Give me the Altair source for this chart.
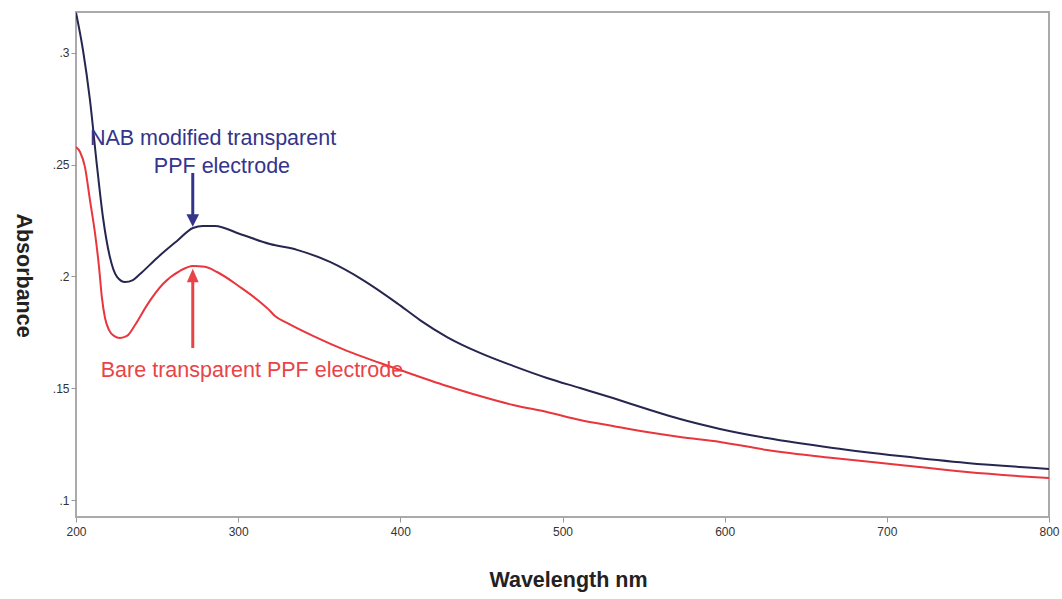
import altair as alt
import pandas as pd

# Absorbance spectra (wavelength in nm, absorbance)
nab_wl = [200, 204.3, 208.6, 213, 216.6, 220.9, 225.3, 230.2, 235.1, 239.5, 250, 262.3,
          272.1, 278.3, 285.7, 301.1, 319.6, 336.3, 356.6, 377, 397.9, 412.1, 428.8,
          449.1, 469.5, 490.4, 510.8, 531.1, 552.1, 572.5, 597.1, 626.1, 666.8, 708.1,
          749.4, 800]
nab_abs = [0.3180, 0.3013, 0.2790, 0.2490, 0.2266, 0.2087, 0.1998, 0.1975, 0.1984,
           0.2011, 0.2083, 0.2159, 0.2217, 0.2226, 0.2226, 0.2190, 0.2145, 0.2119,
           0.2065, 0.1984, 0.1881, 0.1805, 0.1729, 0.1658, 0.1600, 0.1546, 0.1501,
           0.1456, 0.1407, 0.1362, 0.1318, 0.1277, 0.1233, 0.1197, 0.1166, 0.1139]

bare_wl = [200, 202.5, 205.5, 208.6, 211.7, 214.2, 216, 217.9, 220.3, 223.4, 227.1,
           231.4, 236.4, 243.8, 253.6, 264.1, 272.1, 279.5, 287, 301.1, 313.5, 318.4,
           322.7, 330.1, 346.1, 367.1, 387.5, 401.6, 428.8, 449.1, 469.5, 490.4, 510.8,
           531.1, 552.1, 572.5, 597.1, 626.1, 666.8, 708.1, 749.4, 800]
bare_abs = [0.2579, 0.2557, 0.2490, 0.2342, 0.2195, 0.2042, 0.1904, 0.1814, 0.1761,
            0.1734, 0.1725, 0.1734, 0.1783, 0.1872, 0.1966, 0.2025, 0.2047, 0.2043,
            0.2020, 0.1953, 0.1886, 0.1855, 0.1823, 0.1792, 0.1734, 0.1667, 0.1613,
            0.1577, 0.1510, 0.1465, 0.1425, 0.1394, 0.1358, 0.1331, 0.1304, 0.1282,
            0.1260, 0.1224, 0.1188, 0.1157, 0.1125, 0.1098]

x_ticks = [200, 300, 400, 500, 600, 700, 800]
y_ticks = [0.1, 0.15, 0.2, 0.25, 0.3]

NAVY_LINE = "#262650"
NAVY_TEXT = "#34348a"
RED_LINE = "#e8363c"
RED_TEXT = "#e84448"
FONT = "Liberation Sans"

x_scale = alt.Scale(domain=[200, 800], nice=False, zero=False)
y_scale = alt.Scale(domain=[0.0924, 0.3183], nice=False, zero=False)

nab_df = pd.DataFrame({"wl": nab_wl, "abs": nab_abs})
bare_df = pd.DataFrame({"wl": bare_wl, "abs": bare_abs})

x_enc = alt.X("wl:Q", scale=x_scale, axis=alt.Axis(
    values=x_ticks, title="Wavelength nm", titleFontSize=21.5, titleFontWeight="bold",
    titleFont=FONT, titleColor="#222", titleX=492, titleY=63, titleBaseline="middle",
    titleAnchor="start", titleAlign="center",
    labelFont=FONT, labelFontSize=12, labelColor="#333", labelPadding=4,
    labelFlush=False, labelOverlap=False,
    tickColor="#999", tickSize=5, domain=False, grid=False))
y_enc = alt.Y("abs:Q", scale=y_scale, axis=alt.Axis(
    values=y_ticks, title="Absorbance", titleFontSize=21.5, titleFontWeight="bold",
    titleFont=FONT, titleColor="#222", titleAngle=90, titleX=-54, titleY=263,
    titleBaseline="middle", titleAlign="center", titleAnchor="start",
    labelExpr="slice(format(datum.value, '.2~f'), 1)",
    labelFont=FONT, labelFontSize=12, labelColor="#333", labelPadding=2,
    labelFlush=False, labelOverlap=False,
    tickColor="#999", tickSize=5, domain=False, grid=False))

nab_line = alt.Chart(nab_df).mark_line(
    color=NAVY_LINE, strokeWidth=2, interpolate="monotone", clip=True
).encode(x=x_enc, y=y_enc)

bare_line = alt.Chart(bare_df).mark_line(
    color=RED_LINE, strokeWidth=2, interpolate="monotone", clip=True
).encode(x="wl:Q", y="abs:Q")

# Labels
nab_text_df = pd.DataFrame({
    "wl": [284.5, 290.0],
    "abs": [0.2588, 0.2463],
    "t": ["NAB modified transparent", "PPF electrode"],
})
nab_text = alt.Chart(nab_text_df).mark_text(
    font=FONT, fontSize=21.5, color=NAVY_TEXT, align="center", baseline="alphabetic"
).encode(x="wl:Q", y="abs:Q", text="t:N")

bare_text_df = pd.DataFrame({"wl": [308.5], "abs": [0.1550],
                             "t": ["Bare transparent PPF electrode"]})
bare_text = alt.Chart(bare_text_df).mark_text(
    font=FONT, fontSize=21.5, color=RED_TEXT, align="center", baseline="alphabetic"
).encode(x="wl:Q", y="abs:Q", text="t:N")

# Arrows: shaft + head
arrow_wl = [272.0]
nab_arrow_tail = [0.2463]
nab_arrow_tip = [0.2222]
bare_arrow_tail = [0.1680]
bare_arrow_tip = [0.2034]

nab_shaft = alt.Chart(pd.DataFrame({"wl": arrow_wl, "a": nab_arrow_tail,
                                    "b": [nab_arrow_tip[0] + 0.004]})).mark_rule(
    color=NAVY_TEXT, strokeWidth=3
).encode(x="wl:Q", y="a:Q", y2="b:Q")
nab_head = alt.Chart(pd.DataFrame({"wl": arrow_wl, "abs": nab_arrow_tip})).mark_point(
    shape="M-0.9,-1.8L0.9,-1.8L0,0Z", size=196, filled=True, opacity=1,
    color=NAVY_TEXT
).encode(x="wl:Q", y="abs:Q")

bare_shaft = alt.Chart(pd.DataFrame({"wl": arrow_wl, "a": bare_arrow_tail,
                                     "b": [bare_arrow_tip[0] - 0.004]})).mark_rule(
    color=RED_TEXT, strokeWidth=3
).encode(x="wl:Q", y="a:Q", y2="b:Q")
bare_head = alt.Chart(pd.DataFrame({"wl": arrow_wl, "abs": bare_arrow_tip})).mark_point(
    shape="M-0.85,1.9L0.85,1.9L0,0Z", size=196, filled=True, opacity=1,
    color=RED_TEXT
).encode(x="wl:Q", y="abs:Q")

chart = alt.layer(
    nab_line, bare_line, nab_text, bare_text,
    nab_shaft, nab_head, bare_shaft, bare_head
).properties(
    width=973, height=505,
    autosize=alt.AutoSizeParams(type="none"),
    padding={"left": 76, "top": 12, "right": 13, "bottom": 82},
    background="white",
).configure_view(
    stroke="#aaaaaa", strokeWidth=2
)

chart.save("out.html", embed_options={"renderer": "svg", "actions": False})
